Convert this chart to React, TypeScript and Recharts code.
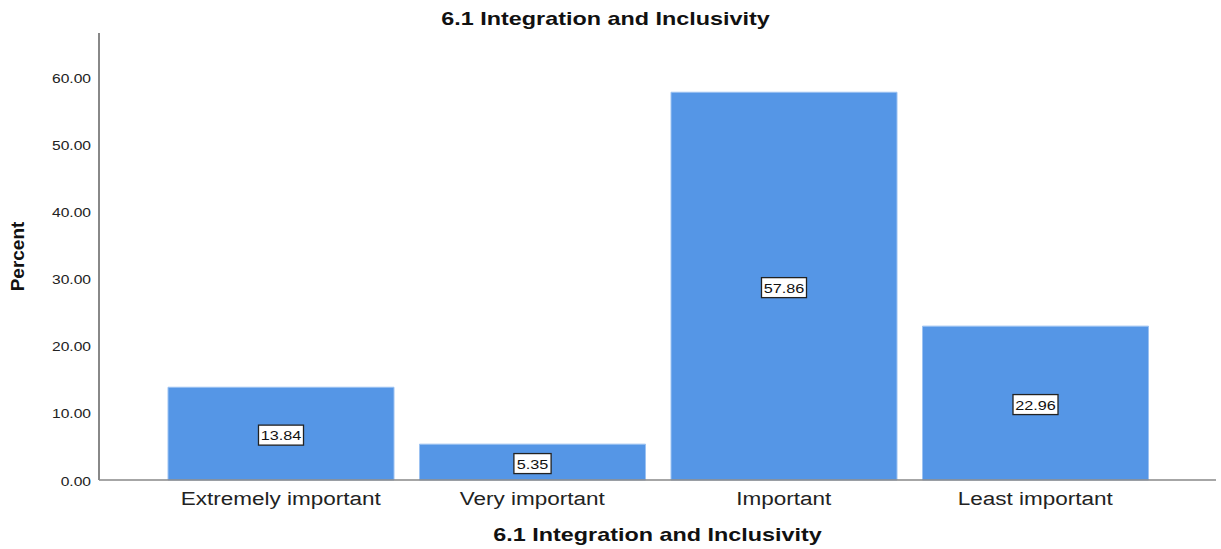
import { BarChart, Bar, XAxis, YAxis, LabelList, Label } from 'recharts';

const categories = ['Extremely important', 'Very important', 'Important', 'Least important'];
const percents = [13.84, 5.35, 57.86, 22.96];
const yTicks = [0, 10, 20, 30, 40, 50, 60];
const chartTitle = '6.1 Integration and Inclusivity';

const data = categories.map((name, i) => ({ name, value: percents[i] }));

const font = '"Liberation Sans", Arial, sans-serif';
// the reference output is stretched sideways, so text is widened to match
const stretch = 1.25;

const YTick = (props: any) => {
  const { x, y, payload } = props;
  return (
    <text
      transform={`translate(${x},${y + 5.5}) scale(1.2,1)`}
      textAnchor='end'
      fontSize={13}
      fontFamily={font}
      fill='#222'
    >
      {Number(payload.value).toFixed(2)}
    </text>
  );
};

const XTick = (props: any) => {
  const { x, y, payload } = props;
  return (
    <text
      transform={`translate(${x},${y + 15}) scale(${stretch},1)`}
      textAnchor='middle'
      fontSize={18}
      fontFamily={font}
      fill='#222'
    >
      {payload.value}
    </text>
  );
};

// white boxed value label in the middle of each bar
const BoxLabel = (props: any) => {
  const { x, y, width, height, value } = props;
  const text = Number(value).toFixed(2);
  const w = text.length * 7.8 + 6;
  const h = 20;
  const cx = x + width / 2;
  const cy = y + height / 2 + 1.5;
  return (
    <g>
      <rect x={cx - w / 2} y={cy - h / 2} width={w} height={h} fill='#fff' stroke='#222' strokeWidth={1.3} />
      <text
        transform={`translate(${cx},${cy + 5}) scale(1.2,1)`}
        textAnchor='middle'
        fontSize={13.5}
        fontFamily={font}
        fill='#111'
      >
        {text}
      </text>
    </g>
  );
};

export default function App() {
  return (
    <div style={{ position: 'absolute', left: 0, top: 0, width: 1221, height: 549, background: '#fff' }}>
      <svg width={1221} height={34} style={{ position: 'absolute', left: 0, top: 0 }}>
        <text
          transform={`translate(605.5,25) scale(1.23,1)`}
          textAnchor='middle'
          fontSize={19}
          fontWeight='bold'
          fontFamily={font}
          fill='#111'
        >
          {chartTitle}
        </text>
      </svg>
      <BarChart width={1221} height={549} data={data} margin={{ top: 33, right: 5, bottom: 0, left: 0 }}>
        <YAxis
          width={99}
          domain={[0, 66.7]}
          ticks={yTicks}
          tickLine={false}
          axisLine={{ stroke: '#888', strokeWidth: 2 }}
          tick={YTick}
          tickMargin={2}
        >
          <Label
            value='Percent'
            angle={-90}
            position='insideLeft'
            offset={17}
            style={{ fontSize: 19, fontWeight: 'bold', fontFamily: font, fill: '#111', textAnchor: 'middle' }}
          />
        </YAxis>
        <XAxis
          dataKey='name'
          height={69}
          padding={{ left: 56, right: 55 }}
          tickLine={false}
          axisLine={{ stroke: '#888', strokeWidth: 1.5 }}
          tick={XTick}
          tickMargin={4}
          interval={0}
        >
          <Label
            content={(p: any) => {
              const vb = p.viewBox;
              return (
                <text
                  transform={`translate(${vb.x + vb.width / 2},541) scale(1.23,1)`}
                  textAnchor='middle'
                  fontSize={19}
                  fontWeight='bold'
                  fontFamily={font}
                  fill='#111'
                >
                  {chartTitle}
                </text>
              );
            }}
          />
        </XAxis>
        <Bar dataKey='value' fill='#5596E6' stroke='#9cc2f2' strokeWidth={1} barSize={226} isAnimationActive={false}>
          <LabelList dataKey='value' content={BoxLabel} />
        </Bar>
      </BarChart>
    </div>
  );
}
